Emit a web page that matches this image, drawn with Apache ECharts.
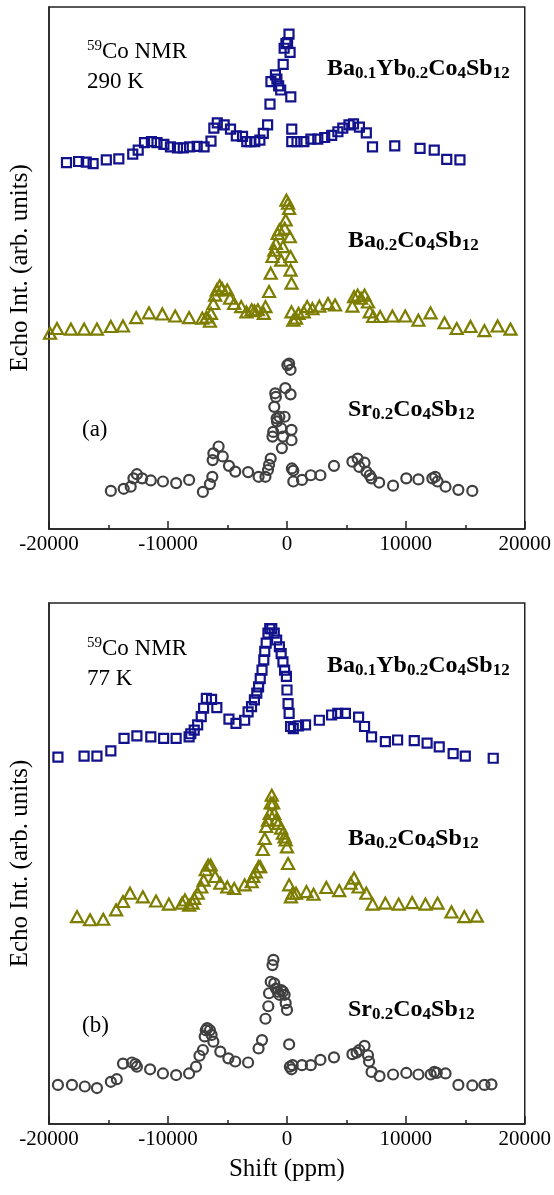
<!DOCTYPE html>
<html><head><meta charset="utf-8">
<script src="https://cdn.jsdelivr.net/npm/echarts@6/dist/echarts.min.js"></script>
<style>html,body{margin:0;padding:0;background:#fff}#c{width:554px;height:1195px}</style>
</head><body><div id="c"></div>
<script>
// x ticks
const xTicks = [-20000, -10000, 0, 10000, 20000];
// Panel (a) 290 K : [shift ppm, echo intensity (arb.)]
const a290_BaYb = [[-18530,70.2],[-17510,70.4],[-16870,70.3],[-16290,70.0],[-15180,70.7],[-14130,70.9],[-12960,71.8],[-12500,72.6],[-11970,74.0],[-11390,74.2],[-10920,74.0],[-10340,73.7],[-9790,73.2],[-9200,73.0],[-8710,73.0],[-8180,73.2],[-7540,73.3],[-6960,73.2],[-6380,74.3],[-6140,76.8],[-5850,77.8],[-5270,77.4],[-4740,76.6],[-4250,75.3],[-3730,75.2],[-3370,74.2],[-3080,74.2],[-2700,74.2],[-2270,74.5],[-1980,75.8],[-1620,77.4],[-1420,81.4],[-1340,85.7],[-960,87.0],[-840,86.2],[-690,84.9],[-520,84.1],[-310,89.0],[-230,92.1],[-80,93.0],[60,93.2],[180,94.8],[270,91.3],[330,82.8],[410,76.6],[410,74.2],[850,74.2],[1430,74.2],[2020,74.7],[2600,74.7],[3180,75.0],[3770,75.4],[4290,76.1],[4700,76.8],[5220,77.4],[5600,77.6],[6100,77.0],[6680,75.9],[7200,73.2],[9070,73.4],[11200,72.9],[12390,72.6],[13440,70.8],[14550,70.7]];
const a290_Ba = [[-19915,37.5],[-19330,38.4],[-18160,38.3],[-17050,38.3],[-15970,38.3],[-14800,38.8],[-13780,38.9],[-12670,40.5],[-11590,41.4],[-10470,41.2],[-9390,40.8],[-8220,40.5],[-7110,40.4],[-6760,40.6],[-6470,39.8],[-6380,41.3],[-6180,43.2],[-6030,44.8],[-5890,45.8],[-5650,46.6],[-5450,46.1],[-5010,45.8],[-4780,44.2],[-4430,43.2],[-3840,42.6],[-3400,41.6],[-2960,42.0],[-2730,41.8],[-2440,42.0],[-1940,41.3],[-1800,42.6],[-1500,45.5],[-1360,49.0],[-1210,52.2],[-1060,53.4],[-920,54.7],[-770,56.6],[-630,57.3],[-480,51.5],[-330,54.1],[-190,57.6],[-100,59.2],[-40,63.0],[100,62.4],[190,61.4],[250,56.0],[310,52.2],[310,49.6],[390,47.1],[390,41.6],[540,40.0],[770,40.4],[980,41.3],[1420,41.6],[1710,42.6],[2150,42.2],[2730,42.7],[3460,43.2],[4050,42.9],[5510,42.7],[5650,44.5],[5950,44.8],[6240,44.2],[6530,44.8],[6820,43.5],[6970,41.6],[7260,40.7],[7840,40.7],[8870,40.8],[9950,40.8],[11060,40.0],[12080,41.4],[13250,39.5],[14280,38.4],[15440,38.8],[16610,38.0],[17720,38.9],[18800,38.3]];
const a290_Sr = [[-14800,7.3],[-13720,7.7],[-13130,8.1],[-12900,9.7],[-12610,10.5],[-12170,9.7],[-11440,9.3],[-10420,9.1],[-9310,8.8],[-8220,9.4],[-7060,7.1],[-6470,8.6],[-6270,10.0],[-6240,13.2],[-6180,14.5],[-5740,15.8],[-5390,13.9],[-4870,12.1],[-4340,11.0],[-3260,10.9],[-2380,10.0],[-1800,10.0],[-1590,11.3],[-1500,12.3],[-1360,13.5],[-1210,17.7],[-1150,18.6],[-1060,23.4],[-980,26.0],[-920,25.3],[-860,21.2],[-830,20.6],[-630,21.5],[-480,19.3],[-420,15.5],[-330,17.7],[-190,21.5],[-130,27.0],[40,31.4],[190,31.7],[310,30.5],[310,25.8],[390,19.0],[390,17.0],[420,11.6],[540,11.2],[540,9.1],[1270,9.4],[2010,10.3],[2820,10.3],[3960,12.1],[5510,12.9],[5950,13.5],[6090,11.9],[6530,12.7],[6680,11.0],[6970,10.3],[7110,9.7],[7760,8.9],[8930,8.3],[10040,9.7],[11060,9.5],[12230,9.7],[12470,10.0],[12670,9.1],[13340,8.1],[14420,7.5],[15590,7.3]];
// Panel (b) 77 K
const b77_BaYb = [[-19250,70.4],[-17050,70.6],[-15970,70.6],[-14800,71.6],[-13690,74.0],[-12610,74.5],[-11440,74.3],[-10360,74.0],[-9310,74.0],[-8220,74.3],[-8080,74.9],[-7790,75.6],[-7500,76.6],[-7200,78.2],[-7000,79.8],[-6770,81.7],[-6330,81.5],[-5890,79.9],[-4870,77.7],[-4280,76.9],[-3550,77.5],[-3260,79.1],[-2970,80.1],[-2730,81.4],[-2530,82.7],[-2380,83.9],[-2240,85.5],[-2090,87.1],[-1940,89.1],[-1860,90.7],[-1740,92.3],[-1590,94.2],[-1440,95.1],[-1270,95.1],[-1060,94.2],[-860,92.9],[-630,91.6],[-480,90.3],[-330,88.7],[-190,87.1],[-40,85.9],[10,83.3],[100,80.7],[190,78.8],[310,76.3],[540,75.9],[980,76.4],[1570,76.6],[2730,77.5],[3760,78.5],[4280,78.8],[4920,78.8],[6030,78.1],[6530,76.3],[7120,74.3],[8280,73.4],[9310,73.7],[10710,73.6],[11790,73.1],[12810,72.4],[13980,71.1],[15000,70.6],[17350,70.2]];
const b77_Ba = [[-17640,39.8],[-16550,39.2],[-15440,39.3],[-14360,41.1],[-13780,42.7],[-13190,44.3],[-12110,43.6],[-11000,42.8],[-9920,42.2],[-8810,42.4],[-8570,43.0],[-8220,42.0],[-7930,42.4],[-7790,43.3],[-7500,44.3],[-7200,45.5],[-7000,46.8],[-6820,48.8],[-6620,49.7],[-6410,49.7],[-6030,47.5],[-5600,46.2],[-5010,45.5],[-4430,45.2],[-3550,45.9],[-2960,46.5],[-2820,47.5],[-2620,48.4],[-2380,49.4],[-2240,49.4],[-2030,52.7],[-1860,54.8],[-1740,57.1],[-1590,58.3],[-1440,59.6],[-1360,61.6],[-1270,63.1],[-1150,61.6],[-1060,59.6],[-920,58.3],[-720,57.7],[-480,56.8],[-330,55.8],[-190,55.1],[-100,54.5],[10,53.2],[100,50.0],[190,45.9],[340,43.6],[480,44.3],[770,44.3],[1650,44.6],[2240,44.1],[3320,45.4],[4400,44.8],[5360,46.2],[5650,47.2],[6030,45.5],[6680,44.3],[7210,42.2],[8280,42.4],[9400,42.2],[10530,42.5],[11650,42.2],[12670,42.4],[13840,40.7],[14920,39.8],[15970,39.9]];
const b77_Sr = [[-19250,7.5],[-18070,7.5],[-16990,7.2],[-15970,6.9],[-14800,8.1],[-14300,8.6],[-13780,11.6],[-13030,11.8],[-12740,11.5],[-12610,11.0],[-11500,10.5],[-10420,9.7],[-9310,9.4],[-8220,9.7],[-7640,11.0],[-7350,13.1],[-7060,14.2],[-6910,16.8],[-6820,18.0],[-6700,18.4],[-6470,18.0],[-6330,17.1],[-6180,15.8],[-5600,13.9],[-4920,12.6],[-4340,12.0],[-3260,11.8],[-2380,14.5],[-2090,16.1],[-1800,20.2],[-1560,22.6],[-1500,25.1],[-1360,27.3],[-1210,30.5],[-1130,31.5],[-1060,27.0],[-920,26.0],[-770,25.4],[-630,24.8],[-480,25.7],[-330,25.4],[-190,24.8],[-100,23.2],[10,21.9],[190,15.3],[250,11.0],[390,10.5],[480,11.3],[1270,11.3],[2010,11.3],[2820,12.3],[3960,12.8],[5510,13.4],[5860,13.7],[6090,14.2],[6530,15.0],[6820,13.2],[6910,12.0],[7120,10.0],[7790,9.2],[8930,9.5],[10040,9.8],[11060,9.5],[12090,9.5],[12400,10.0],[12600,9.8],[13340,9.7],[14420,7.5],[15590,7.4],[16610,7.5],[17200,7.6]];

const BLUE = '#12128c', OLIVE = '#7d7d00', GRAY = '#404040';
const FONT = 'Liberation Serif';

const chart = echarts.init(document.getElementById('c'), null, {renderer: 'canvas'});

function xAxis(gi, withName) {
  return {
    type: 'value', gridIndex: gi, min: xTicks[0], max: xTicks[xTicks.length - 1], interval: xTicks[1] - xTicks[0],
    axisLine: {show: true, onZero: false, lineStyle: {color: '#222', width: 1.5}},
    axisTick: {show: true, inside: true, length: 8, lineStyle: {color: '#222', width: 1.5}},
    minorTick: {show: true, splitNumber: 2, length: 4, lineStyle: {color: '#222', width: 1.5}},
    splitLine: {show: false},
    axisLabel: {fontFamily: FONT, fontSize: 21, color: '#000', margin: 5, formatter: v => String(v)},
    name: withName ? 'Shift (ppm)' : '', nameLocation: 'middle', nameGap: 33,
    nameTextStyle: {fontFamily: FONT, fontSize: 25, color: '#000'}
  };
}
function yAxis(gi) {
  return {
    type: 'value', gridIndex: gi, min: 0, max: 100,
    axisLine: {show: true, onZero: false, lineStyle: {color: '#222', width: 1.5}},
    axisTick: {show: false}, axisLabel: {show: false}, splitLine: {show: false},
    name: 'Echo Int. (arb. units)', nameLocation: 'middle', nameGap: 16,
    nameTextStyle: {fontFamily: FONT, fontSize: 25, color: '#000'}
  };
}
function sc(data, gi, sym, size, color) {
  return {
    type: 'scatter', xAxisIndex: gi, yAxisIndex: gi, data: data,
    symbol: sym, symbolSize: size, silent: true, animation: false,
    itemStyle: {color: 'rgba(0,0,0,0)', borderColor: color, borderWidth: 2.2, opacity: 1}
  };
}
const rich = {
  s: {fontFamily: FONT, fontSize: 15, lineHeight: 12, verticalAlign: 'top', fill: '#000'},
  m: {fontFamily: FONT, fontSize: 23, lineHeight: 26, fill: '#000'},
  b: {fontFamily: FONT, fontSize: 24, fontWeight: 'bold', lineHeight: 26, fill: '#000'},
  bs: {fontFamily: FONT, fontSize: 17, fontWeight: 'bold', lineHeight: 6, verticalAlign: 'bottom', fill: '#000'}
};
function txt(x, y, t) {
  return {type: 'text', left: x, top: y - 13, silent: true,
    style: {text: t, rich: rich, font: '23px ' + FONT, fill: '#000'}};
}
const BAYB = '{b|Ba}{bs|0.1}{b|Yb}{bs|0.2}{b|Co}{bs|4}{b|Sb}{bs|12}';
const BA = '{b|Ba}{bs|0.2}{b|Co}{bs|4}{b|Sb}{bs|12}';
const SR = '{b|Sr}{bs|0.2}{b|Co}{bs|4}{b|Sb}{bs|12}';

chart.setOption({
  animation: false,
  grid: [
    {left: 45, width: 484, top: 7, height: 522, show: true, borderColor: '#222', borderWidth: 1.5},
    {left: 45, width: 484, top: 603, height: 521, show: true, borderColor: '#222', borderWidth: 1.5}
  ],
  xAxis: [xAxis(0, false), xAxis(1, true)],
  yAxis: [yAxis(0), yAxis(1)],
  series: [
    sc(a290_BaYb, 0, 'rect', 9, BLUE),
    sc(a290_Ba, 0, 'triangle', [12, 11], OLIVE),
    sc(a290_Sr, 0, 'circle', 10, GRAY),
    sc(b77_BaYb, 1, 'rect', 9, BLUE),
    sc(b77_Ba, 1, 'triangle', [12, 11], OLIVE),
    sc(b77_Sr, 1, 'circle', 10, GRAY)
  ],
  graphic: [
    txt(87, 52, '{s|59}{m|Co NMR}'),
    txt(87, 83, '{m|290 K}'),
    txt(327, 70, BAYB),
    txt(348, 242, BA),
    txt(348, 411, SR),
    txt(82, 431, '{m|(a)}'),
    txt(87, 649, '{s|59}{m|Co NMR}'),
    txt(87, 680, '{m|77 K}'),
    txt(327, 667, BAYB),
    txt(348, 840, BA),
    txt(348, 1011, SR),
    txt(82, 1027, '{m|(b)}')
  ]
});
</script></body></html>
